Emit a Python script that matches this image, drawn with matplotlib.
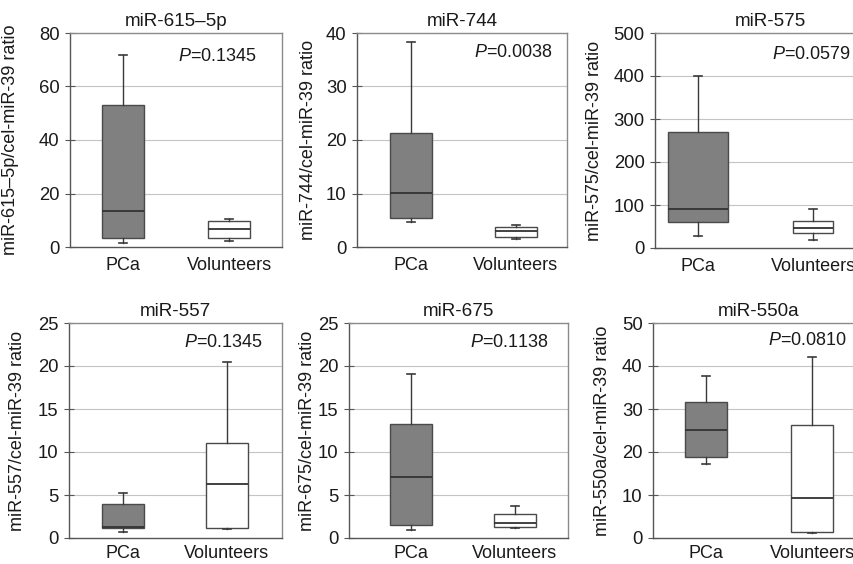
import matplotlib
matplotlib.use("Agg")
import matplotlib.pyplot as plt

plt.rcParams['font.family'] = ['Liberation Sans', 'DejaVu Sans']
plt.rcParams['mathtext.fontset'] = 'custom'
plt.rcParams['mathtext.it'] = 'Liberation Sans:italic'
plt.rcParams['mathtext.rm'] = 'Liberation Sans'

# ---- data ----
genes = ["miR-615\u20135p", "miR-744", "miR-575", "miR-557", "miR-675", "miR-550a"]
ylabels = ["miR-615\u20135p/cel-miR-39 ratio", "miR-744/cel-miR-39 ratio",
           "miR-575/cel-miR-39 ratio", "miR-557/cel-miR-39 ratio",
           "miR-675/cel-miR-39 ratio", "miR-550a/cel-miR-39 ratio"]
p_values = ["0.1345", "0.0038", "0.0579", "0.1345", "0.1138", "0.0810"]
groups = ["PCa", "Volunteers"]
y_max = [80, 40, 500, 25, 25, 50]
y_step = [20, 10, 100, 5, 5, 10]

# box statistics: whisker low, Q1, median, Q3, whisker high
pca_whislo = [1.6, 4.7, 28, 0.7, 0.97, 17.2]
pca_q1 = [3.4, 5.4, 60, 1.12, 1.55, 18.9]
pca_med = [13.4, 10.1, 90, 1.24, 7.1, 25.1]
pca_q3 = [53.1, 21.3, 270, 3.95, 13.2, 31.6]
pca_whishi = [71.9, 38.4, 400, 5.2, 19.1, 37.65]

vol_whislo = [2.25, 1.5, 19.4, 1.05, 1.16, 1.1]
vol_q1 = [3.4, 1.8, 35.7, 1.2, 1.32, 1.4]
vol_med = [6.75, 3.0, 46.5, 6.3, 1.74, 9.4]
vol_q3 = [9.9, 3.7, 63, 11.0, 2.83, 26.3]
vol_whishi = [10.6, 4.2, 91, 20.5, 3.76, 42.2]

# ---- layout (pixels: left, bottom-from-top, width, height) ----
W, H = 854, 564
rects_px = [(70, 247, 212, 214), (357, 247, 210, 214), (655, 248, 230, 215),
            (69, 538, 213, 215), (349, 538, 219, 215), (653, 538, 212, 215)]
xlims = [(0.5, 2.5), (0.486, 2.486), (0.626, 2.626),
         (0.48, 2.53), (0.404, 2.51), (0.5, 2.5)]
box_w = [(0.4, 0.4), (0.4, 0.4), (0.52, 0.35),
         (0.4, 0.4), (0.4, 0.4), (0.4, 0.4)]
label_x = [-0.24, -0.19, -0.226, -0.202, -0.151, -0.198]
p_xy = [(0.88, 0.888), (0.93, 0.907), (0.85, 0.898),
        (0.91, 0.907), (0.91, 0.91), (0.914, 0.92)]
x_pad = [7, 7, 7, 5, 5, 5]

fig = plt.figure(figsize=(W / 100, H / 100), dpi=100)
txt = '#1a1a1a'

for i in range(6):
    l, b, w, h = rects_px[i]
    ax = fig.add_axes([l / W, (H - b) / H, w / W, h / H])
    stats = [
        dict(whislo=pca_whislo[i], q1=pca_q1[i], med=pca_med[i], q3=pca_q3[i],
             whishi=pca_whishi[i], fliers=[], label=groups[0]),
        dict(whislo=vol_whislo[i], q1=vol_q1[i], med=vol_med[i], q3=vol_q3[i],
             whishi=vol_whishi[i], fliers=[], label=groups[1]),
    ]
    bp = ax.bxp(stats, positions=[1, 2], widths=list(box_w[i]), patch_artist=True,
                showfliers=False, capwidths=0.07,
                boxprops=dict(edgecolor='#4a4a4a', linewidth=1.0),
                whiskerprops=dict(color='#3a3a3a', linewidth=1.0),
                capprops=dict(color='#3a3a3a', linewidth=1.2),
                medianprops=dict(color='#333333', linewidth=1.3))
    bp['boxes'][0].set_facecolor('#808080')
    bp['boxes'][1].set_facecolor('white')
    for art in bp['boxes'] + bp['whiskers'] + bp['caps'] + bp['medians']:
        art.set_zorder(3)

    ax.set_xlim(*xlims[i])
    ax.set_ylim(0, y_max[i])
    ticks = list(range(0, y_max[i] + 1, y_step[i]))
    ax.set_yticks(ticks)
    for t in ticks[1:-1]:
        ax.axhline(t, color='#c4c4c4', linewidth=0.8, zorder=1)
    ax.tick_params(axis='y', direction='inout', length=7, width=0.8,
                   labelsize=13.3, colors='#555555', labelcolor=txt, pad=4)
    ax.tick_params(axis='x', length=0, labelsize=13, labelcolor=txt, pad=x_pad[i])
    for s in ['left', 'bottom']:
        ax.spines[s].set_color('#555555')
        ax.spines[s].set_linewidth(1.0)
    for s in ['top', 'right']:
        ax.spines[s].set_color('#8a8a8a')
        ax.spines[s].set_linewidth(1.0)
    ax.set_title(genes[i], fontsize=13.6, color=txt, pad=5)
    ax.set_ylabel(ylabels[i], fontsize=13, color=txt)
    ax.yaxis.set_label_coords(label_x[i], 0.5)
    ax.text(p_xy[i][0], p_xy[i][1], r"$\mathit{P}$=" + p_values[i],
            transform=ax.transAxes, ha='right', va='center', fontsize=13,
            color=txt, zorder=4)

fig.savefig("out.png", dpi=100)
